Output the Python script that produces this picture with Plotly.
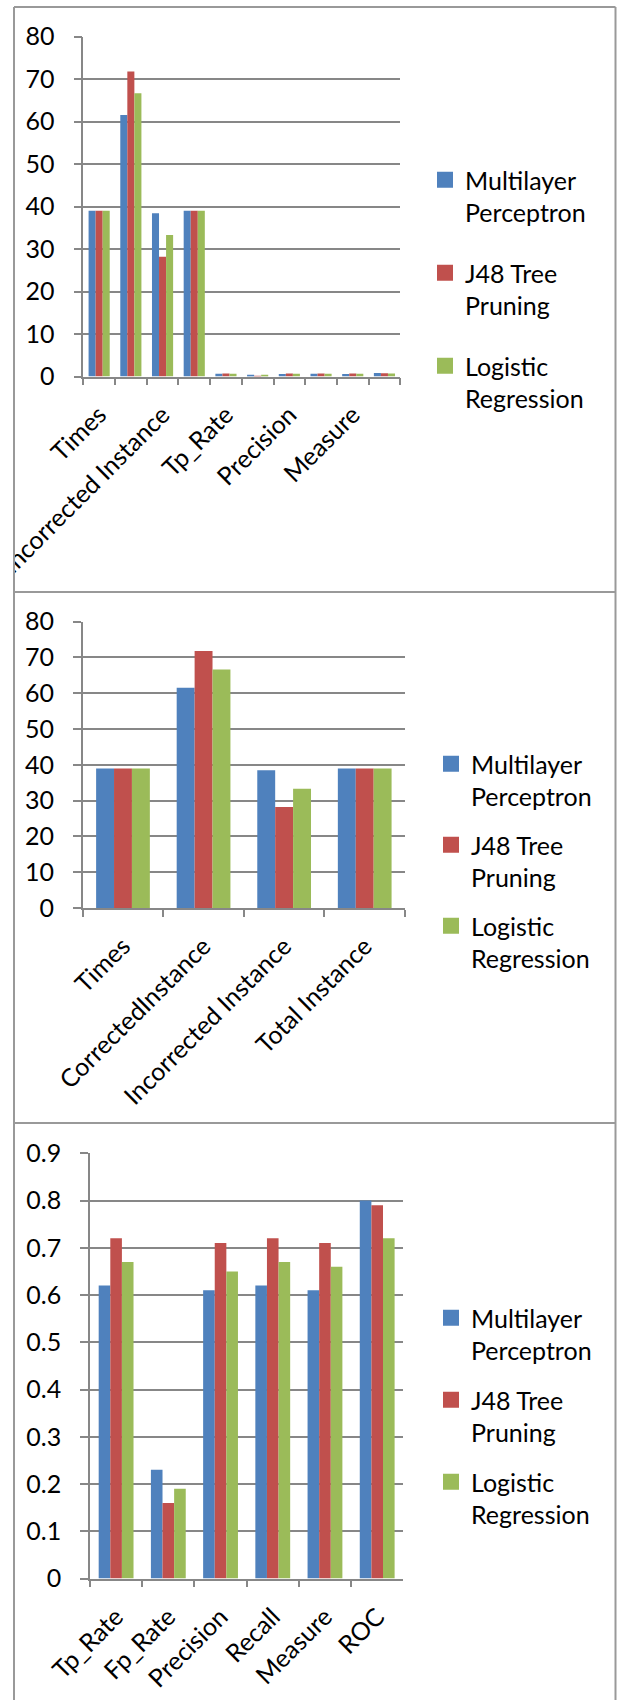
import plotly.graph_objects as go

W, H = 618, 1700

# ---------------- data ----------------
series_names = ["Multilayer<br>Perceptron", "J48 Tree<br>Pruning", "Logistic<br>Regression"]
series_colors = ["#4F81BD", "#C0504D", "#9BBB59"]

categories_all = ["Times", "CorrectedInstance", "Incorrected Instance", "Total Instance",
                  "Tp_Rate", "Fp_Rate", "Precision", "Recall", "Measure", "ROC"]
ticktext_all = ["Times", "", "Incorrected Instance", "", "Tp_Rate", "",
                "Precision", "", "Measure", ""]
mlp_all = [39, 61.54, 38.46, 39, 0.62, 0.23, 0.61, 0.62, 0.61, 0.80]
j48_all = [39, 71.79, 28.21, 39, 0.72, 0.16, 0.71, 0.72, 0.71, 0.79]
lr_all = [39, 66.67, 33.33, 39, 0.67, 0.19, 0.65, 0.67, 0.66, 0.72]

categories_counts = ["Times", "CorrectedInstance", "Incorrected Instance", "Total Instance"]
mlp_counts = [39, 61.54, 38.46, 39]
j48_counts = [39, 71.79, 28.21, 39]
lr_counts = [39, 66.67, 33.33, 39]

categories_rates = ["Tp_Rate", "Fp_Rate", "Precision", "Recall", "Measure", "ROC"]
mlp_rates = [0.62, 0.23, 0.61, 0.62, 0.61, 0.80]
j48_rates = [0.72, 0.16, 0.71, 0.72, 0.71, 0.79]
lr_rates = [0.67, 0.19, 0.65, 0.67, 0.66, 0.72]

y_ticks_counts = [0, 10, 20, 30, 40, 50, 60, 70, 80]
y_ticks_rates = [0, 0.1, 0.2, 0.3, 0.4, 0.5, 0.6, 0.7, 0.8, 0.9]
y_ticktext_rates = ["0", "0.1", "0.2", "0.3", "0.4", "0.5", "0.6", "0.7", "0.8", "0.9"]

# ---------------- layout helpers ----------------
FONT = "Lato"
FS = 25
GRID = "#878787"
BORDER = "#999999"


def px_x(x):
    return x / W


def px_y(y):
    return 1 - y / H


panels = [
    dict(cats=categories_all, ticktext=ticktext_all, vals=[mlp_all, j48_all, lr_all],
         xd=(83.3, 400.3), yd=(36.7, 376.5), yr=[0, 80], yt=y_ticks_counts,
         ytt=[str(v) for v in y_ticks_counts],
         leg_x=425, leg_y=157, gap=25),
    dict(cats=categories_counts, ticktext=categories_counts,
         vals=[mlp_counts, j48_counts, lr_counts],
         xd=(82.7, 405.0), yd=(621.7, 908.0), yr=[0, 80], yt=y_ticks_counts,
         ytt=[str(v) for v in y_ticks_counts],
         leg_x=431, leg_y=741, gap=13),
    dict(cats=categories_rates, ticktext=categories_rates,
         vals=[mlp_rates, j48_rates, lr_rates],
         xd=(90.0, 403.3), yd=(1153.3, 1578.5), yr=[0, 0.9], yt=y_ticks_rates,
         ytt=y_ticktext_rates,
         leg_x=431, leg_y=1295, gap=14),
]

fig = go.Figure()
layout = dict(
    width=W, height=H, autosize=False,
    margin=dict(l=0, r=0, t=0, b=0, autoexpand=False),
    paper_bgcolor="white", plot_bgcolor="white",
    font=dict(family=FONT, size=FS, color="black"),
    barmode="group", bargap=0.333, bargroupgap=0,
    showlegend=True,
)

for i, p in enumerate(panels):
    n = "" if i == 0 else str(i + 1)
    xa, ya = "x" + n, "y" + n
    leg = "legend" + n
    for s, (name, color, vals) in enumerate(zip(series_names, series_colors, p["vals"])):
        grp = f"p{i}s{s}"
        fig.add_trace(go.Bar(x=p["cats"], y=vals, name=name, marker_color=color,
                             marker_line_width=0, xaxis=xa, yaxis=ya,
                             legendgroup=grp, showlegend=False, legend=leg))
        fig.add_trace(go.Scatter(x=[None], y=[None], mode="markers", name=name,
                                 marker=dict(symbol="square", size=16, color=color),
                                 xaxis=xa, yaxis=ya, legendgroup=grp,
                                 showlegend=True, legend=leg, hoverinfo="skip"))
    layout["xaxis" + n] = dict(
        domain=[px_x(p["xd"][0]), px_x(p["xd"][1])],
        anchor=ya, type="category", automargin=False,
        categoryorder="array", categoryarray=p["cats"],
        tickmode="array", tickvals=p["cats"], ticktext=p["ticktext"],
        tickson="boundaries", ticks="outside", ticklen=7, tickwidth=1.5, tickcolor=GRID,
        tickangle=-45, ticklabelstandoff=12,
        showline=True, linecolor=GRID, linewidth=1.5,
        showgrid=False, zeroline=False, fixedrange=True,
        tickfont=dict(family=FONT, size=FS, color="black"),
    )
    layout["yaxis" + n] = dict(
        domain=[px_y(p["yd"][1]), px_y(p["yd"][0])],
        anchor=xa, range=p["yr"], automargin=False,
        tickmode="array", tickvals=p["yt"], ticktext=p["ytt"],
        ticks="outside", ticklen=8, tickwidth=1.5, tickcolor=GRID,
        ticklabelstandoff=14,
        showline=True, linecolor=GRID, linewidth=1.5,
        showgrid=True, gridcolor=GRID, gridwidth=1.5,
        zeroline=False, fixedrange=True,
        tickfont=dict(family=FONT, size=FS, color="black"),
    )
    layout[leg] = dict(
        x=px_x(p["leg_x"]), y=px_y(p["leg_y"]), xanchor="left", yanchor="top",
        xref="paper", yref="paper",
        valign="top", tracegroupgap=p["gap"], itemwidth=30,
        bgcolor="rgba(0,0,0,0)", borderwidth=0,
        font=dict(family=FONT, size=FS, color="black"),
    )

shapes = []
# white cover to clip labels beyond the left panel border (as in the original cell)
shapes.append(dict(type="rect", xref="paper", yref="paper", layer="above",
                   x0=0, x1=px_x(13), y0=px_y(592), y1=1,
                   fillcolor="white", line=dict(width=0)))
# table borders
for y in [7, 592, 1123]:
    shapes.append(dict(type="line", xref="paper", yref="paper", layer="above",
                       x0=px_x(14), x1=px_x(615.5), y0=px_y(y), y1=px_y(y),
                       line=dict(color=BORDER, width=2)))
for x in [14, 615.5]:
    shapes.append(dict(type="line", xref="paper", yref="paper", layer="above",
                       x0=px_x(x), x1=px_x(x), y0=px_y(7), y1=0,
                       line=dict(color=BORDER, width=2)))
layout["shapes"] = shapes

fig.update_layout(**layout)
fig.write_html("out.html")
